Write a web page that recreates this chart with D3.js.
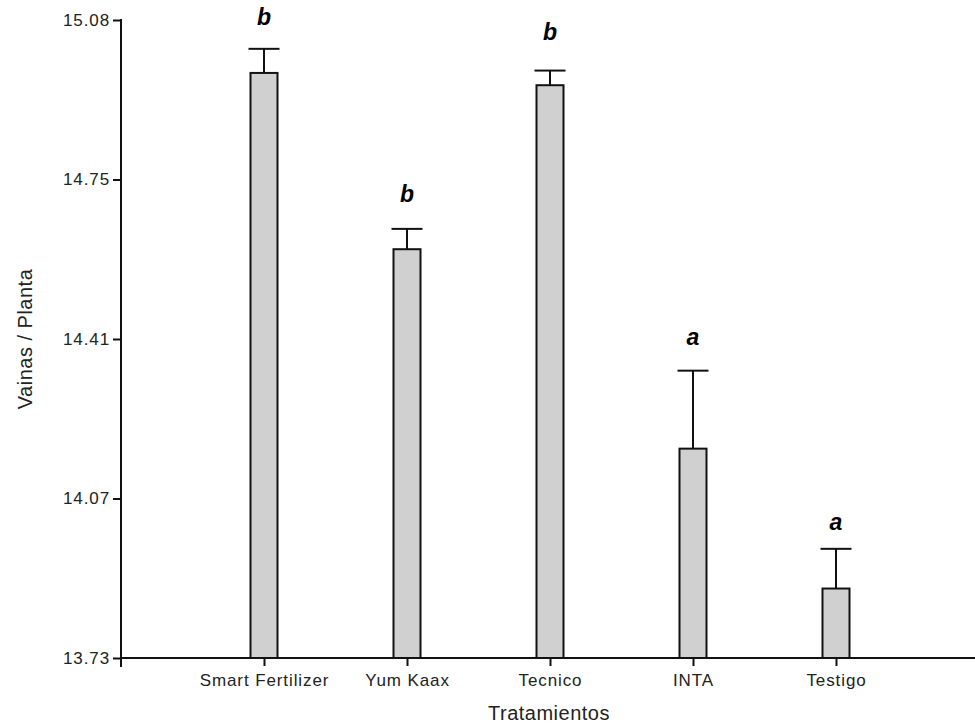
<!DOCTYPE html>
<html>
<head>
<meta charset="utf-8">
<script src="https://cdn.jsdelivr.net/npm/d3@7"></script>
<style>
  html, body { margin: 0; padding: 0; background: #fff; }
  svg { display: block; font-family: "Liberation Sans", Arial, sans-serif; }
</style>
</head>
<body>
<svg id="chart" width="975" height="725"></svg>
<script>
// ---- data ----
const categories = ["Smart Fertilizer", "Yum Kaax", "Tecnico", "INTA", "Testigo"];
const means      = [14.968, 14.595, 14.942, 14.173, 13.877];
const errors     = [0.051, 0.043, 0.031, 0.165, 0.084];
const letters    = ["b", "b", "b", "a", "a"];
const letterAt   = [15.069, 14.695, 15.038, 14.392, 14.001]; // value at which each letter sits
const yDomain    = [13.73, 15.08];
const yTickLabels = ["13.73", "14.07", "14.41", "14.75", "15.08"];

// ---- layout ----
const svg = d3.select("#chart");
const mLeft = 121, mRight = 975, mTop = 20, mBottom = 658;

const x = d3.scalePoint().domain(categories).range([mLeft, 979]).padding(1);
const y = d3.scaleLinear().domain(yDomain).range([mBottom, mTop]);

const yTickValues = yTickLabels.map((_, i) => yDomain[0] + i * (yDomain[1] - yDomain[0]) / (yTickLabels.length - 1));

// y axis
const yAxis = d3.axisLeft(y).tickValues(yTickValues).tickSize(8).tickPadding(3)
  .tickFormat((d, i) => yTickLabels[i]);
const gy = svg.append("g").attr("transform", `translate(${mLeft},0)`).call(yAxis);
gy.select(".domain").remove();
gy.selectAll(".tick line").attr("stroke", "#111").attr("stroke-width", 2);
gy.selectAll(".tick text").attr("font-size", 17).attr("fill", "#222")
  .attr("letter-spacing", "0.9px").attr("font-family", "Liberation Sans, Arial, sans-serif");

// x axis
const xAxis = d3.axisBottom(x).tickSize(8).tickPadding(8);
const gx = svg.append("g").attr("transform", `translate(0,${mBottom})`).call(xAxis);
gx.select(".domain").remove();
gx.selectAll(".tick line").attr("stroke", "#111").attr("stroke-width", 2);
gx.selectAll(".tick text").attr("font-size", 17).attr("fill", "#222")
  .attr("letter-spacing", "0.9px").attr("font-family", "Liberation Sans, Arial, sans-serif");

// axis lines
svg.append("line").attr("x1", mLeft).attr("x2", mLeft).attr("y1", mTop - 1).attr("y2", mBottom + 9)
  .attr("stroke", "#111").attr("stroke-width", 2);
svg.append("line").attr("x1", mLeft).attr("x2", mRight).attr("y1", mBottom).attr("y2", mBottom)
  .attr("stroke", "#111").attr("stroke-width", 2);

const data = categories.map((c, i) => ({ c, m: means[i], e: errors[i], l: letters[i], ly: letterAt[i] }));
const barW = 27;
const capW = 31;

// error bars (drawn before bars)
const eg = svg.append("g");
eg.selectAll("line.stem").data(data).join("line").attr("class", "stem")
  .attr("x1", d => x(d.c)).attr("x2", d => x(d.c))
  .attr("y1", d => y(d.m)).attr("y2", d => y(d.m + d.e))
  .attr("stroke", "#111").attr("stroke-width", 2);
eg.selectAll("line.cap").data(data).join("line").attr("class", "cap")
  .attr("x1", d => x(d.c) - capW / 2).attr("x2", d => x(d.c) + capW / 2)
  .attr("y1", d => y(d.m + d.e)).attr("y2", d => y(d.m + d.e))
  .attr("stroke", "#111").attr("stroke-width", 2);

// bars
svg.append("g").selectAll("rect").data(data).join("rect")
  .attr("x", d => x(d.c) - barW / 2)
  .attr("y", d => y(d.m))
  .attr("width", barW)
  .attr("height", d => y(yDomain[0]) - y(d.m))
  .attr("fill", "#d0d0d0").attr("stroke", "#111").attr("stroke-width", 2);

// letters
svg.append("g").selectAll("text").data(data).join("text")
  .attr("x", d => x(d.c))
  .attr("y", d => y(d.ly))
  .attr("text-anchor", "middle")
  .attr("font-size", 23).attr("font-weight", "bold").attr("font-style", "italic")
  .attr("fill", "#000")
  .text(d => d.l);

// axis titles
svg.append("text").attr("x", 549).attr("y", 720).attr("text-anchor", "middle")
  .attr("font-size", 20).attr("letter-spacing", "0.5px").attr("fill", "#222")
  .text("Tratamientos");
svg.append("text").attr("transform", "translate(32,339) rotate(-90)")
  .attr("text-anchor", "middle").attr("font-size", 20).attr("letter-spacing", "0.5px").attr("fill", "#222")
  .text("Vainas / Planta");
</script>
</body>
</html>
